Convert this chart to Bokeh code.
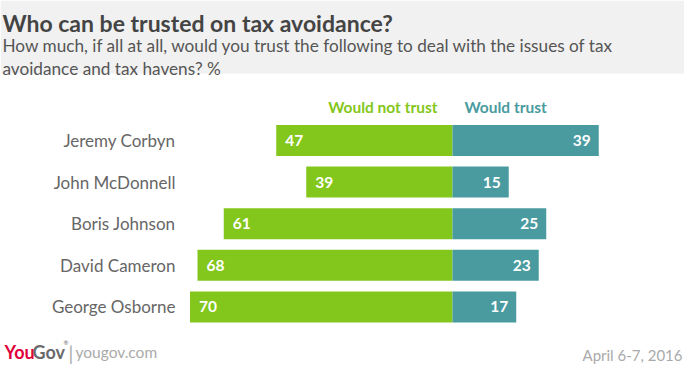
from bokeh.plotting import figure
from bokeh.models import Range1d, ColumnDataSource
from bokeh.core.properties import value
from bokeh.embed import file_html
from bokeh.resources import INLINE

# ---- data ----
people = ["Jeremy Corbyn", "John McDonnell", "Boris Johnson", "David Cameron", "George Osborne"]
would_not_trust = [47, 39, 61, 68, 70]
would_trust = [39, 15, 25, 23, 17]
series_labels = ["Would not trust", "Would trust"]
title_text = "Who can be trusted on tax avoidance?"
subtitle_lines = ["How much, if all at all, would you trust the following to deal with the issues of tax",
                  "avoidance and tax havens? %"]
date_text = "April 6-7, 2016"

GREEN = "#84c71c"
TEAL = "#4a9b9f"
FONT = "Lato"

W, H = 684, 364
px_per_unit = 3.75
zero_px = 452
row0_px = 140
row_step = 41.6

p = figure(width=W, height=H, output_backend="svg", toolbar_location=None,
           x_range=Range1d(-zero_px / px_per_unit, (W - zero_px) / px_per_unit),
           y_range=Range1d((H - row0_px) / row_step, -row0_px / row_step),
           min_border=0, outline_line_color=None)
p.extra_x_ranges = {"px": Range1d(0, W)}
p.extra_y_ranges = {"px": Range1d(H, 0)}
p.axis.visible = False
p.grid.visible = False
p.background_fill_color = "white"
p.border_fill_color = "white"

# header band
p.quad(left=0, right=W, top=0, bottom=73, x_range_name="px", y_range_name="px",
       fill_color="#f1f1f1", line_color=None)

p.text(x=[2], y=[22], text=[title_text], x_range_name="px", y_range_name="px",
       text_font=value(FONT), text_font_style="bold", text_font_size="23px",
       text_color="#444444", text_baseline="alphabetic")
p.text(x=[2, 2], y=[45, 68], text=subtitle_lines, x_range_name="px", y_range_name="px",
       text_font=value(FONT), text_font_size="17.2px",
       text_color="#555555", text_baseline="alphabetic")

idx = list(range(len(people)))
src = ColumnDataSource(dict(y=idx, people=people,
                            nt=would_not_trust, ntneg=[-v for v in would_not_trust],
                            t=would_trust,
                            ntl=[str(v) for v in would_not_trust],
                            tl=[str(v) for v in would_trust]))

p.hbar(y="y", left="ntneg", right=0, height=0.745, source=src,
       fill_color=GREEN, line_color=None)
p.hbar(y="y", left=0, right="t", height=0.745, source=src,
       fill_color=TEAL, line_color=None)

p.text(x="ntneg", y="y", text="ntl", source=src, x_offset=9,
       text_font=value(FONT), text_font_style="bold", text_font_size="15.5px",
       text_color="white", text_align="left", text_baseline="middle")
p.text(x="t", y="y", text="tl", source=src, x_offset=-8,
       text_font=value(FONT), text_font_style="bold", text_font_size="15.5px",
       text_color="white", text_align="right", text_baseline="middle")

# category labels
p.text(x=[175] * len(people), y=idx, text=people, x_range_name="px",
       text_font=value(FONT), text_font_size="17px",
       text_color="#666666", text_align="right", text_baseline="middle")

# series headers
p.text(x=[437], y=[106], text=[series_labels[0]], x_range_name="px", y_range_name="px",
       text_font=value(FONT), text_font_style="bold", text_font_size="15.5px",
       text_color=GREEN, text_align="right", text_baseline="middle")
p.text(x=[464], y=[106], text=[series_labels[1]], x_range_name="px", y_range_name="px",
       text_font=value(FONT), text_font_style="bold", text_font_size="15.5px",
       text_color=TEAL, text_align="left", text_baseline="middle")

# footer
p.text(x=[4], y=[351], text=["You"], x_range_name="px", y_range_name="px",
       text_font=value(FONT), text_font_style="bold", text_font_size="18px",
       text_color="#e0003b", text_baseline="alphabetic")
p.text(x=[32], y=[351], text=["Gov"], x_range_name="px", y_range_name="px",
       text_font=value(FONT), text_font_style="bold", text_font_size="18px",
       text_color="#6a6a6a", text_baseline="alphabetic")
p.text(x=[63], y=[342], text=["®"], x_range_name="px", y_range_name="px",
       text_font=value(FONT), text_font_size="6px",
       text_color="#6a6a6a", text_baseline="alphabetic")
p.text(x=[68], y=[353], text=["|"], x_range_name="px", y_range_name="px",
       text_font=value(FONT), text_font_size="19px",
       text_color="#aaaaaa", text_baseline="alphabetic")
p.text(x=[75], y=[351], text=["yougov.com"], x_range_name="px", y_range_name="px",
       text_font=value(FONT), text_font_size="15.5px",
       text_color="#aaaaaa", text_baseline="alphabetic")
p.text(x=[682], y=[354], text=[date_text], x_range_name="px", y_range_name="px",
       text_font=value(FONT), text_font_size="15px",
       text_color="#aaaaaa", text_align="right", text_baseline="alphabetic")

open("out.html", "w").write(file_html(p, INLINE))
